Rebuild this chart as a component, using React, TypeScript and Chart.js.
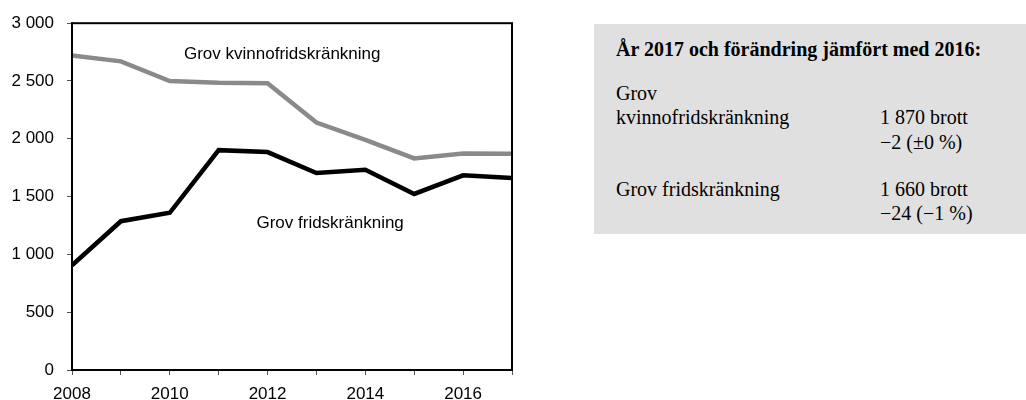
import React, { useEffect, useRef } from "react";
import { Chart, registerables } from "chart.js";

Chart.register(...registerables);

const years = [2008, 2009, 2010, 2011, 2012, 2013, 2014, 2015, 2016, 2017];
const kvinnofrid = [2720, 2670, 2500, 2485, 2480, 2140, 1990, 1830, 1872, 1870];
const fridskrankning = [905, 1287, 1360, 1902, 1885, 1704, 1733, 1523, 1684, 1660];
const yTicks = [0, 500, 1000, 1500, 2000, 2500, 3000];

const seriesLabels = ["Grov kvinnofridskränkning", "Grov fridskränkning"];
// annotation anchors (data coordinates)
const labelAnchors = [
  { x: 2012.3, y: 2735 },
  { x: 2013.28, y: 1265 },
];

const fmt = (v: number) => {
  const s = String(Math.round(v));
  return s.replace(/\B(?=(\d{3})+(?!\d))/g, " ");
};

const SANS = "'Liberation Sans', Arial, sans-serif";
const SERIF = "'Liberation Serif', 'Times New Roman', serif";

const framePlugin = {
  id: "frame",
  afterDatasetsDraw(chart: any) {
    const { ctx, chartArea: a } = chart;
    ctx.save();
    ctx.strokeStyle = "#000";
    ctx.lineWidth = 2;
    ctx.strokeRect(a.left, a.top, a.right - a.left, a.bottom - a.top);
    ctx.restore();
  },
  afterDraw(chart: any) {
    const { ctx } = chart;
    const xs = chart.scales.x;
    const ys = chart.scales.y;
    ctx.save();
    ctx.fillStyle = "#000";
    ctx.font = `17px ${SANS}`;
    ctx.textAlign = "center";
    ctx.textBaseline = "middle";
    labelAnchors.forEach((p, i) => {
      ctx.fillText(seriesLabels[i], xs.getPixelForValue(p.x), ys.getPixelForValue(p.y));
    });
    ctx.restore();
  },
};

function LineChart() {
  const ref = useRef<HTMLCanvasElement>(null);
  useEffect(() => {
    const chart = new Chart(ref.current!, {
      type: "line",
      data: {
        datasets: [
          {
            label: seriesLabels[0],
            data: years.map((y, i) => ({ x: y, y: kvinnofrid[i] })),
            borderColor: "#8a8a8a",
            borderWidth: 4.5,
            pointRadius: 0,
            tension: 0,
          },
          {
            label: seriesLabels[1],
            data: years.map((y, i) => ({ x: y, y: fridskrankning[i] })),
            borderColor: "#000",
            borderWidth: 4.5,
            pointRadius: 0,
            tension: 0,
          },
        ],
      },
      options: {
        animation: false,
        responsive: false,
        layout: { padding: { top: 22, right: 28, left: 0, bottom: 0 } },
        plugins: { legend: { display: false }, tooltip: { enabled: false } },
        scales: {
          x: {
            type: "linear",
            min: years[0],
            max: years[years.length - 1],
            afterFit: (s: any) => { s.height = 30; },
            afterBuildTicks: (s: any) => { s.ticks = years.map((v) => ({ value: v })); },
            ticks: {
              autoSkip: false,
              maxRotation: 0,
              padding: 9,
              color: "#000",
              font: { family: SANS, size: 17 },
              callback: (v: any) => (Number(v) % 2 === 0 ? String(v) : ""),
            },
            grid: { drawOnChartArea: false, drawTicks: true, tickLength: 5, color: "#555" },
            border: { display: true, color: "#000", width: 2 },
          },
          y: {
            min: 0,
            max: 3000,
            afterFit: (s: any) => { s.width = 72; },
            afterBuildTicks: (s: any) => { s.ticks = yTicks.map((v) => ({ value: v })); },
            ticks: {
              padding: 13,
              color: "#000",
              font: { family: SANS, size: 17 },
              callback: (v: any) => fmt(Number(v)),
            },
            grid: { drawOnChartArea: false, drawTicks: true, tickLength: 5, color: "#555" },
            border: { display: true, color: "#000", width: 2 },
          },
        },
      },
      plugins: [framePlugin],
    });
    return () => chart.destroy();
  }, []);
  return <canvas ref={ref} width={540} height={400} style={{ position: "absolute", left: 0, top: 0, width: 540, height: 400 }} />;
}

const boxTitle = "År 2017 och förändring jämfört med 2016:";
const boxRows = [
  { name: ["Grov", "kvinnofridskränkning"], value: "1 870 brott", change: "−2 (±0 %)" },
  { name: ["Grov fridskränkning"], value: "1 660 brott", change: "−24 (−1 %)" },
];

function InfoBox() {
  const line = (text: string, left: number, top: number, bold = false) => (
    <div
      style={{
        position: "absolute",
        left,
        top,
        fontFamily: SERIF,
        fontSize: 20,
        fontWeight: bold ? "bold" : "normal",
        lineHeight: "20px",
        whiteSpace: "nowrap",
        color: "#000",
      }}
    >
      {text}
    </div>
  );
  return (
    <div style={{ position: "absolute", left: 594, top: 24, width: 432, height: 210, background: "#e0e0e0" }}>
      {line(boxTitle, 22, 15, true)}
      {line(boxRows[0].name[0], 22, 59)}
      {line(boxRows[0].name[1], 22, 82.5)}
      {line(boxRows[0].value, 286, 82.5)}
      {line(boxRows[0].change, 286, 108)}
      {line(boxRows[1].name[0], 22, 154.5)}
      {line(boxRows[1].value, 286, 154.5)}
      {line(boxRows[1].change, 286, 179)}
    </div>
  );
}

export default function App() {
  return (
    <div style={{ position: "fixed", left: 0, top: 0, width: 1026, height: 400, background: "#fff", overflow: "hidden" }}>
      <LineChart />
      <InfoBox />
    </div>
  );
}
